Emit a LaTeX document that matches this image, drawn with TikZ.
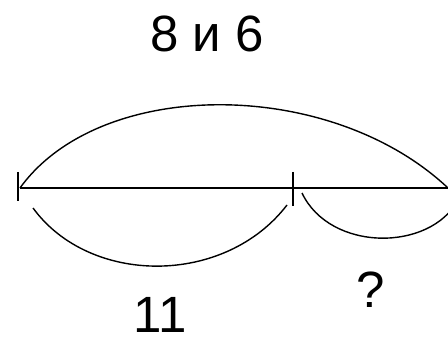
\documentclass[tikz,border=0pt]{standalone}
\usepackage{fontspec}
\setmainfont{Liberation Sans}
\usepackage{tikz}
\usetikzlibrary{arrows.meta, positioning, calc}

\begin{document}
\begin{tikzpicture}[x=1pt, y=-1pt, line width=1.8pt,
    arcline/.style={line width=1.4pt},
    bigtext/.style={inner sep=0pt, anchor=base, font=\fontsize{51}{60}\selectfont}]
  \useasboundingbox (0,0) rectangle (448,337);
  \clip (0,0) rectangle (448,337);

  % the segment and its marks
  \coordinate (L) at (20,188);
  \coordinate (M) at (293,188);
  \coordinate (R) at (448,188);
  \draw (L) -- (R);
  \draw (18,172) coordinate (Ltop) -- (18,201) coordinate (Lbot);
  \draw (M |- 0,172) coordinate (Mtop) -- (M |- 0,206) coordinate (Mbot);

  % whole: arc above
  \draw[arcline] (L) .. controls (100,77) and (330,77) .. (R);
  \node[bigtext] (whole) at (207,52) {8 и 6};

  % first part: arc below
  \coordinate (a1) at (33,208);
  \coordinate (a2) at (287,205);
  \draw[arcline] (a1) .. controls (90,286) and (225,286) .. (a2);
  \node[bigtext] (first) at (160,332) {11};

  % second part: arc below
  \coordinate (b1) at (302,193);
  \coordinate (b2) at (458,200);
  \draw[arcline] (b1) .. controls (330,252) and (430,252) .. (b2);
  \node[bigtext] (second) at (371,307) {?};
\end{tikzpicture}
\end{document}
